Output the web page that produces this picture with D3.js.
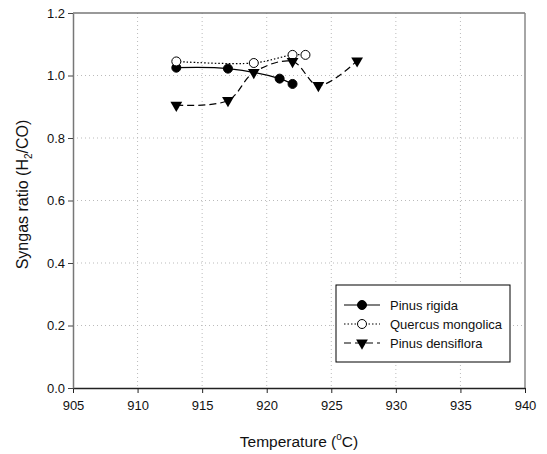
<!DOCTYPE html>
<html>
<head>
<meta charset="utf-8">
<script src="https://cdn.jsdelivr.net/npm/d3@7"></script>
<style>
  body { margin: 0; background: #fff; }
  text { font-family: Arial, "Liberation Sans", sans-serif; }
</style>
</head>
<body>
<div id="chart"></div>
<script>
// data
const rigidaTemp = [913, 917, 921, 922];
const rigidaRatio = [1.025, 1.022, 0.99, 0.973];
const quercusTemp = [913, 919, 922, 923];
const quercusRatio = [1.045, 1.04, 1.066, 1.066];
const densiTemp = [913, 917, 919, 922, 924, 927];
const densiRatio = [0.905, 0.92, 1.01, 1.045, 0.968, 1.047];

const xTicks = [905, 910, 915, 920, 925, 930, 935, 940];
const yTicks = [0, 0.2, 0.4, 0.6, 0.8, 1.0, 1.2];

const width = 547, height = 454;
const plotLeft = 73, plotRight = 525, plotTop = 13, plotBottom = 388;

const svg = d3.select("#chart").append("svg")
    .attr("width", width)
    .attr("height", height);

const x = d3.scaleLinear().domain([905, 940]).range([plotLeft, plotRight]);
const y = d3.scaleLinear().domain([0, 1.2]).range([plotBottom, plotTop]);

// dotted grid
svg.append("g").selectAll("line")
    .data(xTicks.slice(1, -1))
    .join("line")
    .attr("x1", d => x(d)).attr("x2", d => x(d))
    .attr("y1", plotTop).attr("y2", plotBottom)
    .attr("stroke", "#bbb").attr("stroke-dasharray", "1,3");
svg.append("g").selectAll("line")
    .data(yTicks.slice(1, -1))
    .join("line")
    .attr("y1", d => y(d)).attr("y2", d => y(d))
    .attr("x1", plotLeft).attr("x2", plotRight)
    .attr("stroke", "#bbb").attr("stroke-dasharray", "1,3");

// frame
svg.append("line").attr("x1", plotLeft).attr("x2", plotRight).attr("y1", plotTop).attr("y2", plotTop)
    .attr("stroke", "#777").attr("stroke-width", 1.5);
svg.append("line").attr("x1", plotRight).attr("x2", plotRight).attr("y1", plotTop).attr("y2", plotBottom)
    .attr("stroke", "#888").attr("stroke-width", 1.5);

// axes
const xAxis = svg.append("g")
    .attr("transform", `translate(0,${plotBottom})`)
    .call(d3.axisBottom(x).tickValues(xTicks).tickFormat(d3.format("d")).tickSize(5).tickSizeOuter(0));
const yAxis = svg.append("g")
    .attr("transform", `translate(${plotLeft},0)`)
    .call(d3.axisLeft(y).tickValues(yTicks).tickFormat(d3.format(".1f")).tickSize(5).tickSizeOuter(0));

xAxis.select(".domain").attr("stroke", "#222").attr("stroke-width", 1.5);
yAxis.select(".domain").attr("stroke", "#777").attr("stroke-width", 1.5);
xAxis.selectAll(".tick line").attr("stroke", "#222");
yAxis.selectAll(".tick line").attr("stroke", "#444");
xAxis.selectAll(".tick text").attr("font-size", 13).attr("dy", "1.05em").attr("fill", "#111")
    .attr("font-family", "Arial, 'Liberation Sans', sans-serif");
yAxis.selectAll(".tick text").attr("font-size", 13).attr("fill", "#111")
    .attr("font-family", "Arial, 'Liberation Sans', sans-serif");

// axis titles
const xt = svg.append("text")
    .attr("x", (plotLeft + plotRight) / 2).attr("y", 447)
    .attr("text-anchor", "middle").attr("font-size", 15.5).attr("fill", "#111");
xt.append("tspan").text("Temperature (");
xt.append("tspan").attr("font-size", 10).attr("dy", -7).text("o");
xt.append("tspan").attr("dy", 7).text("C)");

const yt = svg.append("text")
    .attr("transform", `translate(28,${(plotTop + plotBottom) / 2 - 6}) rotate(-90)`)
    .attr("text-anchor", "middle").attr("font-size", 16).attr("fill", "#111");
yt.append("tspan").text("Syngas ratio (H");
yt.append("tspan").attr("font-size", 10).attr("dy", 4).text("2");
yt.append("tspan").attr("dy", -4).text("/CO)");

// series
const series = [
    { name: "Pinus rigida", t: rigidaTemp, v: rigidaRatio, dash: null, marker: "filled" },
    { name: "Quercus mongolica", t: quercusTemp, v: quercusRatio, dash: "1.5,2", marker: "open" },
    { name: "Pinus densiflora", t: densiTemp, v: densiRatio, dash: "7,4", marker: "tri" }
];

const line = d3.line()
    .x(d => x(d[0])).y(d => y(d[1]))
    .curve(d3.curveCatmullRom.alpha(0.5));

const triangle = d3.symbol().type(d3.symbolTriangle).size(60);

function drawMarker(g, kind, cx, cy) {
    if (kind === "tri") {
        g.append("path")
            .attr("d", triangle())
            .attr("transform", `translate(${cx},${cy}) rotate(180)`)
            .attr("fill", "#000");
    } else {
        g.append("circle")
            .attr("cx", cx).attr("cy", cy).attr("r", 4.5)
            .attr("fill", kind === "filled" ? "#000" : "#fff")
            .attr("stroke", "#000").attr("stroke-width", 1);
    }
}

series.forEach(s => {
    const pts = s.t.map((t, i) => [t, s.v[i]]);
    svg.append("path")
        .attr("d", line(pts))
        .attr("fill", "none")
        .attr("stroke", "#000")
        .attr("stroke-width", 1.2)
        .attr("stroke-dasharray", s.dash);
    const g = svg.append("g");
    pts.forEach(p => drawMarker(g, s.marker, x(p[0]), y(p[1])));
});

// legend
const lg = svg.append("g");
lg.append("rect")
    .attr("x", 336).attr("y", 285).attr("width", 174).attr("height", 77)
    .attr("fill", "#fff").attr("stroke", "#000").attr("stroke-width", 1);
series.forEach((s, i) => {
    const ly = 305 + i * 19;
    lg.append("line")
        .attr("x1", 344).attr("x2", 380).attr("y1", ly).attr("y2", ly)
        .attr("stroke", "#000").attr("stroke-width", 1.2)
        .attr("stroke-dasharray", s.dash);
    drawMarker(lg, s.marker, 362, ly);
    lg.append("text")
        .attr("x", 390).attr("y", ly).attr("dy", "0.35em")
        .attr("font-size", 13).attr("fill", "#111")
        .text(s.name);
});
</script>
</body>
</html>
